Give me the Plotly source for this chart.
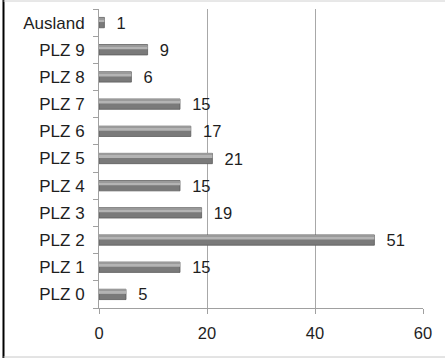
import plotly.graph_objects as go

categories = ["PLZ 0", "PLZ 1", "PLZ 2", "PLZ 3", "PLZ 4", "PLZ 5",
              "PLZ 6", "PLZ 7", "PLZ 8", "PLZ 9", "Ausland"]
values = [5, 15, 51, 19, 15, 21, 17, 15, 6, 9, 1]
x_ticks = [0, 20, 40, 60]

W, H = 445, 358
L, R, T, B = 99, 22, 9, 50
pw, ph = W - L - R, H - T - B

def px(x):
    return (x - L) / pw

def py(y):
    return (H - B - y) / ph

NB = "\u00a0"
fig = go.Figure()
fig.add_trace(go.Bar(
    y=categories, x=values, orientation="h", width=0.38,
    marker=dict(color="#7a7a7a", line=dict(color="#5c5c5c", width=0.8)),
    text=[NB * 2 + str(v) for v in values], textposition="outside",
    constraintext="none",
    textfont=dict(family="Liberation Sans, Arial", size=16.5, color="#1e1e1e"),
    cliponaxis=False, hoverinfo="x+y", showlegend=False,
))
fig.add_trace(go.Bar(
    y=categories, x=values, orientation="h", width=0.11, offset=0.02,
    marker=dict(color="#b4b4b4", line=dict(width=0)),
    hoverinfo="skip", showlegend=False,
))
fig.add_trace(go.Bar(
    y=categories, x=values, orientation="h", width=0.05, offset=0.13,
    marker=dict(color="#9a9a9a", line=dict(width=0)),
    hoverinfo="skip", showlegend=False,
))

fig.update_layout(
    width=W, height=H, barmode="overlay",
    margin=dict(l=L, r=R, t=T, b=B, pad=0),
    paper_bgcolor="white", plot_bgcolor="white",
    font=dict(family="Liberation Sans, Arial", size=16.5, color="#1e1e1e"),
    xaxis=dict(range=[0, 60], tickvals=x_ticks, showgrid=True, gridcolor="#a8a8a8",
               gridwidth=1, showline=True, linecolor="#a0a0a0", linewidth=1,
               ticks="outside", ticklen=5, tickcolor="#a0a0a0",
               ticklabelstandoff=5, zeroline=False,
               tickfont=dict(size=16.5)),
    yaxis=dict(categoryorder="array", categoryarray=categories,
               showgrid=False, showline=True, linecolor="#a0a0a0", linewidth=1,
               ticks="outside", ticklen=5, tickcolor="#a0a0a0",
               tickson="boundaries", ticklabelstandoff=10,
               tickfont=dict(size=17)),
    shapes=[
        dict(type="line", xref="paper", yref="paper", x0=px(3.5), x1=px(3.5),
             y0=py(0), y1=py(358), line=dict(color="#000000", width=2)),
        dict(type="line", xref="paper", yref="paper", x0=px(3.5), x1=px(445),
             y0=py(357), y1=py(357), line=dict(color="#c8c8c8", width=1)),
        dict(type="line", xref="paper", yref="paper", x0=px(3.5), x1=px(445),
             y0=py(1), y1=py(1), line=dict(color="#d0d0d0", width=1)),
    ],
)

fig.write_html("out.html")
